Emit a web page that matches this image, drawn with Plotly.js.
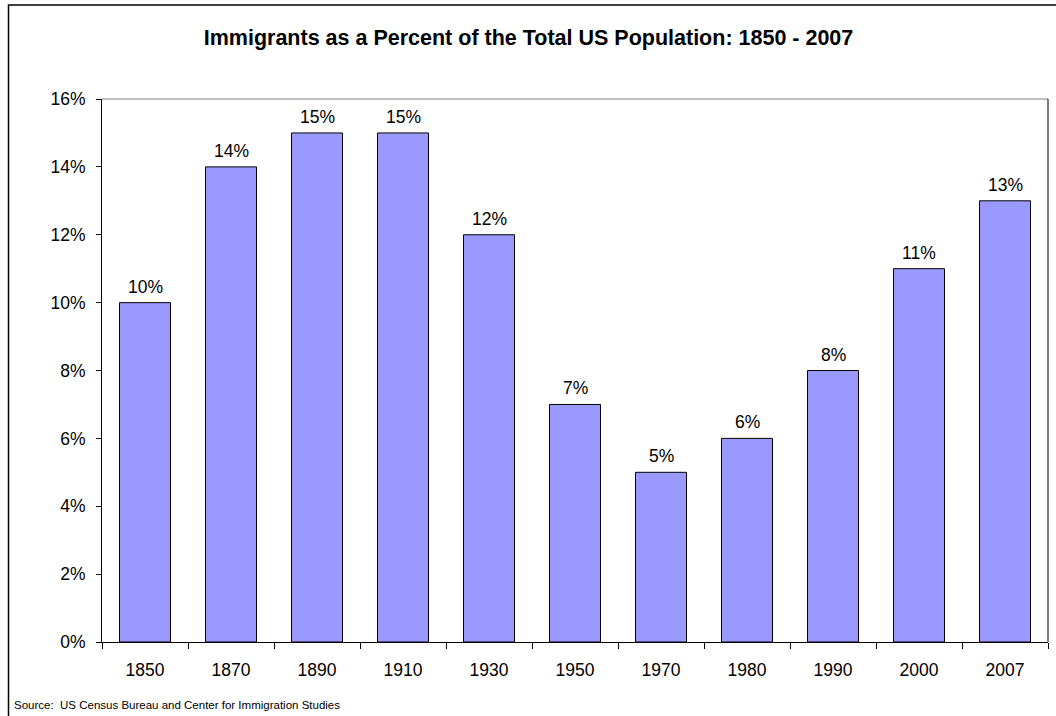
<!DOCTYPE html>
<html>
<head>
<meta charset="utf-8">
<script src="https://cdn.plot.ly/plotly-3.0.1.min.js"></script>
<style>
html,body{margin:0;padding:0;background:#fff;}
#chart{width:1056px;height:716px;}
</style>
</head>
<body>
<div id="chart"></div>
<script>
const years = ['1850','1870','1890','1910','1930','1950','1970','1980','1990','2000','2007'];
const percents = [10, 14, 15, 15, 12, 7, 5, 6, 8, 11, 13];
const yTicks = [0, 2, 4, 6, 8, 10, 12, 14, 16];
const yTickLabels = yTicks.map(v => v + '%');
const titleText = 'Immigrants as a Percent of the Total US Population: 1850 - 2007';
const sourceText = 'Source:  US Census Bureau and Center for Immigration Studies';

const W = 1056, H = 716;
const L = 102, R = 8, T = 99, B = 74;
const pw = W - L - R, ph = H - T - B;
const px = x => (x - L) / pw;
const py = y => (H - B - y) / ph;

const font = 'Liberation Sans, Arial, sans-serif';

const trace = {
  type: 'bar',
  x: years,
  y: percents,
  marker: {color: '#9999FF', line: {color: '#000000', width: 1}},
  hoverinfo: 'x+y'
};

// category index positions so numeric-looking names are not read as indices
const labelAnns = years.map((yr, i) => ({
  x: i, y: percents[i], xref: 'x', yref: 'y',
  text: percents[i] + '%', showarrow: false,
  yanchor: 'bottom', yshift: 4,
  font: {family: font, size: 17.5, color: '#000'}
}));

const layout = {
  width: W, height: H,
  margin: {l: L, r: R, t: T, b: B, pad: 0},
  paper_bgcolor: '#fff', plot_bgcolor: '#fff',
  bargap: 0.407,
  showlegend: false,
  title: {
    text: '<b>' + titleText + '</b>',
    font: {family: font, size: 21.5, color: '#000'},
    xref: 'container', yref: 'container',
    x: 528.5 / W, xanchor: 'center',
    y: 1 - 37 / H, yanchor: 'middle'
  },
  xaxis: {
    type: 'category',
    range: [-0.5, years.length - 0.5],
    autorange: false,
    tickson: 'boundaries',
    ticks: 'outside', ticklen: 6, tickwidth: 1, tickcolor: '#000',
    showline: true, linecolor: '#000', linewidth: 1,
    showgrid: false, zeroline: false,
    tickangle: 0,
    ticklabelstandoff: 12,
    tickfont: {family: font, size: 17.5, color: '#000'},
    fixedrange: true
  },
  yaxis: {
    range: [0, 16],
    tickvals: yTicks, ticktext: yTickLabels,
    ticks: 'outside', ticklen: 5, tickwidth: 1, tickcolor: '#000',
    showline: true, linecolor: '#000', linewidth: 1,
    showgrid: false, zeroline: false,
    ticklabelstandoff: 7,
    tickfont: {family: font, size: 17.5, color: '#000'},
    fixedrange: true
  },
  shapes: [
    {type: 'line', xref: 'paper', yref: 'paper', x0: 0, x1: 1, y0: 1, y1: 1,
     line: {color: '#808080', width: 1}},
    {type: 'line', xref: 'paper', yref: 'paper', x0: 1, x1: 1, y0: 0, y1: 1,
     line: {color: '#000', width: 1}},
    {type: 'rect', xref: 'paper', yref: 'paper',
     x0: px(8.5), x1: px(W + 20), y0: py(5), y1: py(H + 20),
     line: {color: '#000', width: 1.5}, fillcolor: 'rgba(0,0,0,0)'}
  ],
  annotations: labelAnns.concat([{
    xref: 'paper', yref: 'paper',
    x: px(12), y: py(705), xanchor: 'left', yanchor: 'middle',
    text: sourceText, showarrow: false,
    font: {family: font, size: 11.5, color: '#000'}
  }])
};

Plotly.newPlot('chart', [trace], layout, {displayModeBar: false, staticPlot: true});
</script>
</body>
</html>
